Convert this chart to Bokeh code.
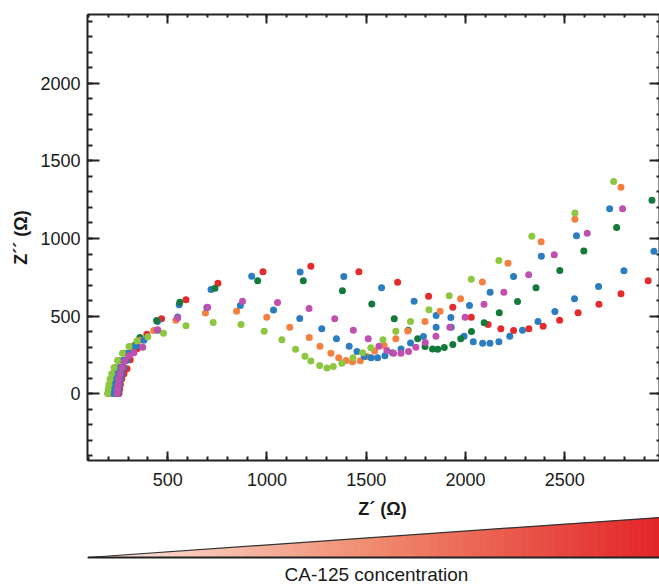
from bokeh.plotting import figure
from bokeh.models import Range1d, LinearAxis, SingleIntervalTicker, CustomJSTickFormatter
from bokeh.layouts import column
from bokeh.embed import file_html
from bokeh.resources import INLINE
from bokeh.core.properties import value

# ---------------- data (Z' , Z'' in ohm) ----------------
green_x = [197, 200, 204, 210, 218, 230, 247, 272, 305, 345, 400, 479, 592, 729, 869, 986, 1075, 1144, 1191, 1221,
           1265, 1302, 1334, 1377, 1433, 1482, 1523, 1584, 1649, 1723, 1816, 1918, 2029, 2168, 2334, 2551, 2746]
green_y = [2, 30, 60, 95, 130, 170, 215, 262, 305, 340, 368, 390, 438, 459, 446, 403, 348, 287, 242, 212,
           182, 167, 176, 197, 232, 264, 296, 348, 403, 466, 541, 631, 738, 858, 1015, 1165, 1367]

orange_x = [205, 208, 212, 218, 226, 238, 255, 280, 315, 360, 430, 541, 690, 847, 999, 1115, 1213, 1267, 1322, 1361,
            1398, 1431, 1470, 1505, 1542, 1590, 1649, 1709, 1796, 1872, 1975, 2085, 2214, 2381, 2551, 2783]
orange_y = [2, 30, 60, 95, 130, 170, 215, 262, 305, 345, 408, 474, 520, 531, 493, 428, 363, 306, 261, 232,
            214, 207, 213, 240, 276, 311, 354, 405, 466, 531, 612, 720, 841, 979, 1124, 1330]

blue1_x = [225, 228, 232, 238, 246, 258, 275, 300, 335, 380, 450, 550, 697, 866, 1033, 1165, 1276, 1350, 1414, 1453,
           1490, 1525, 1557, 1594, 1632, 1675, 1723, 1788, 1852, 1926, 2020, 2124, 2242, 2382, 2559, 2726]
blue1_y = [2, 30, 60, 95, 130, 170, 215, 262, 305, 345, 410, 495, 556, 569, 540, 485, 419, 355, 306, 272,
           241, 232, 232, 245, 265, 288, 327, 370, 428, 492, 569, 654, 756, 886, 1017, 1191]

magenta_x = [245, 247, 250, 254, 260, 270, 284, 305, 330, 374, 449, 550, 701, 877, 1053, 1212, 1341, 1435, 1510, 1564,
             1604, 1638, 1675, 1713, 1750, 1797, 1851, 1921, 1998, 2093, 2193, 2318, 2447, 2613, 2791]
magenta_y = [2, 30, 60, 95, 130, 170, 210, 245, 265, 300, 412, 489, 558, 596, 588, 549, 484, 409, 354, 306,
             279, 261, 261, 272, 300, 330, 371, 429, 493, 577, 654, 766, 895, 1034, 1191]

dgreen_x = [240, 243, 247, 252, 259, 270, 285, 308, 335, 360, 444, 561, 738, 953, 1183, 1380, 1528, 1641, 1711, 1759,
            1796, 1834, 1860, 1893, 1936, 1976, 2030, 2094, 2170, 2262, 2355, 2475, 2596, 2761, 2939]
dgreen_y = [2, 30, 60, 95, 130, 170, 215, 262, 315, 363, 472, 590, 680, 728, 728, 664, 579, 483, 410, 354,
            305, 288, 287, 298, 317, 354, 401, 457, 522, 595, 683, 794, 920, 1071, 1247]

blue2_x = [250, 252, 256, 261, 268, 279, 294, 316, 345, 365, 449, 558, 718, 923, 1167, 1387, 1577, 1741, 1852, 1928,
           1993, 2039, 2086, 2123, 2168, 2223, 2287, 2365, 2450, 2549, 2670, 2798, 2949]
blue2_y = [2, 30, 60, 95, 130, 170, 215, 262, 310, 350, 466, 573, 672, 757, 785, 755, 683, 596, 504, 429,
           371, 335, 326, 326, 335, 371, 410, 466, 530, 612, 691, 792, 918]

red_x = [255, 258, 262, 268, 280, 295, 311, 345, 395, 469, 592, 753, 980, 1221, 1463, 1658, 1814, 1936, 2029, 2114,
         2178, 2242, 2319, 2391, 2474, 2567, 2672, 2783, 2920]
red_y = [2, 30, 60, 95, 130, 161, 219, 290, 384, 483, 605, 712, 786, 822, 786, 719, 628, 558, 493, 446,
         419, 408, 419, 435, 474, 522, 577, 644, 728]

series = [
    (red_x, red_y, "#e52a2c"),
    (blue2_x, blue2_y, "#2b7dc0"),
    (dgreen_x, dgreen_y, "#137a3a"),
    (orange_x, orange_y, "#f47f3e"),
    (blue1_x, blue1_y, "#2b7dc0"),
    (green_x, green_y, "#8dc63f"),
    (magenta_x, magenta_y, "#c04fae"),
]

FONT = "Liberation Sans"
AX = "#222222"

# ---------------- main Nyquist plot ----------------
p = figure(width=659, height=496, x_range=Range1d(96, 2977), y_range=Range1d(-429, 2442),
           output_backend="svg", toolbar_location=None,
           min_border_left=87, min_border_right=0, min_border_top=14, min_border_bottom=36,
           background_fill_color="white", border_fill_color="white")
p.outline_line_color = None
p.grid.visible = False

for xs, ys, c in series:
    p.scatter(xs, ys, size=7, fill_color=c, line_color=None)


def style_axis(ax, tin, mtin, show_labels=True):
    ax.ticker = SingleIntervalTicker(interval=500, num_minor_ticks=5)
    ax.axis_line_color = AX
    ax.axis_line_width = 2
    ax.major_tick_line_color = AX
    ax.minor_tick_line_color = AX
    ax.major_tick_line_width = 2
    ax.minor_tick_line_width = 2
    ax.major_tick_out = 0
    ax.minor_tick_out = 0
    ax.major_tick_in = tin
    ax.minor_tick_in = mtin
    ax.major_label_text_font = FONT
    ax.major_label_text_color = "#1a1a1a"
    if show_labels:
        ax.major_label_text_font_size = "18px"
    else:
        ax.formatter = CustomJSTickFormatter(code="return ''")
        ax.major_label_text_font_size = "1px"
        ax.major_label_standoff = 0


xa = p.xaxis[0]
ya = p.yaxis[0]
style_axis(xa, 9, 4)
style_axis(ya, 12, 5)
xa.major_label_standoff = 12
ya.major_label_standoff = 7
ya.axis_label = "Z´´ (Ω)"
ya.axis_label_text_font = FONT
ya.axis_label_text_font_style = "bold"
ya.axis_label_text_font_size = "18px"
ya.axis_label_text_color = "#1a1a1a"
ya.axis_label_standoff = 6

top = LinearAxis()
style_axis(top, 9, 3, show_labels=False)
p.add_layout(top, "above")
right = LinearAxis()
style_axis(right, 10, 3, show_labels=False)
p.add_layout(right, "right")

# ---------------- concentration wedge (screen-like coordinates) ----------------
q = figure(width=659, height=90, x_range=Range1d(87, 659), y_range=Range1d(586, 496),
           output_backend="svg", toolbar_location=None,
           min_border_left=87, min_border_right=0, min_border_top=0, min_border_bottom=0,
           x_axis_location=None, y_axis_location=None,
           background_fill_color="white", border_fill_color="white")
q.outline_line_color = None
q.grid.visible = False

x0, x1, ybase, ytop = 87.0, 659.0, 557.0, 517.0
stops = [(0.0, (253, 236, 228)), (0.5, (240, 138, 110)), (1.0, (227, 36, 40))]


def grad(t):
    for (t0, c0), (t1, c1) in zip(stops[:-1], stops[1:]):
        if t <= t1:
            f = (t - t0) / (t1 - t0)
            return "#%02x%02x%02x" % tuple(int(round(a + (b - a) * f)) for a, b in zip(c0, c1))
    return "#%02x%02x%02x" % stops[-1][1]


n = 160
ls, rs, tops, cols = [], [], [], []
for i in range(n):
    a = x0 + (x1 - x0) * i / n
    b = x0 + (x1 - x0) * (i + 1) / n
    ls.append(a)
    rs.append(b + 0.6)
    tops.append(ybase - (ybase - ytop) * ((i + 1) / n))
    cols.append(grad((i + 0.5) / n))
q.quad(left=ls, right=rs, bottom=[ybase] * n, top=tops, fill_color=cols, line_color=None)
q.line([x0, x1], [ybase, ytop], line_color="#333333", line_width=1.2)
q.line([x0, x1], [ybase, ybase], line_color="#222222", line_width=2)

q.text(x=[382], y=[508], text=["Z´ (Ω)"], text_font=value(FONT), text_font_style="bold",
       text_font_size="18px", text_align="center", text_baseline="middle", text_color="#1a1a1a")
q.text(x=[376], y=[574], text=["CA-125 concentration"], text_font=value(FONT),
       text_font_size="19px", text_align="center", text_baseline="middle", text_color="#1a1a1a")

layout = column(p, q, spacing=0)
open("out.html", "w").write(file_html(layout, INLINE))
